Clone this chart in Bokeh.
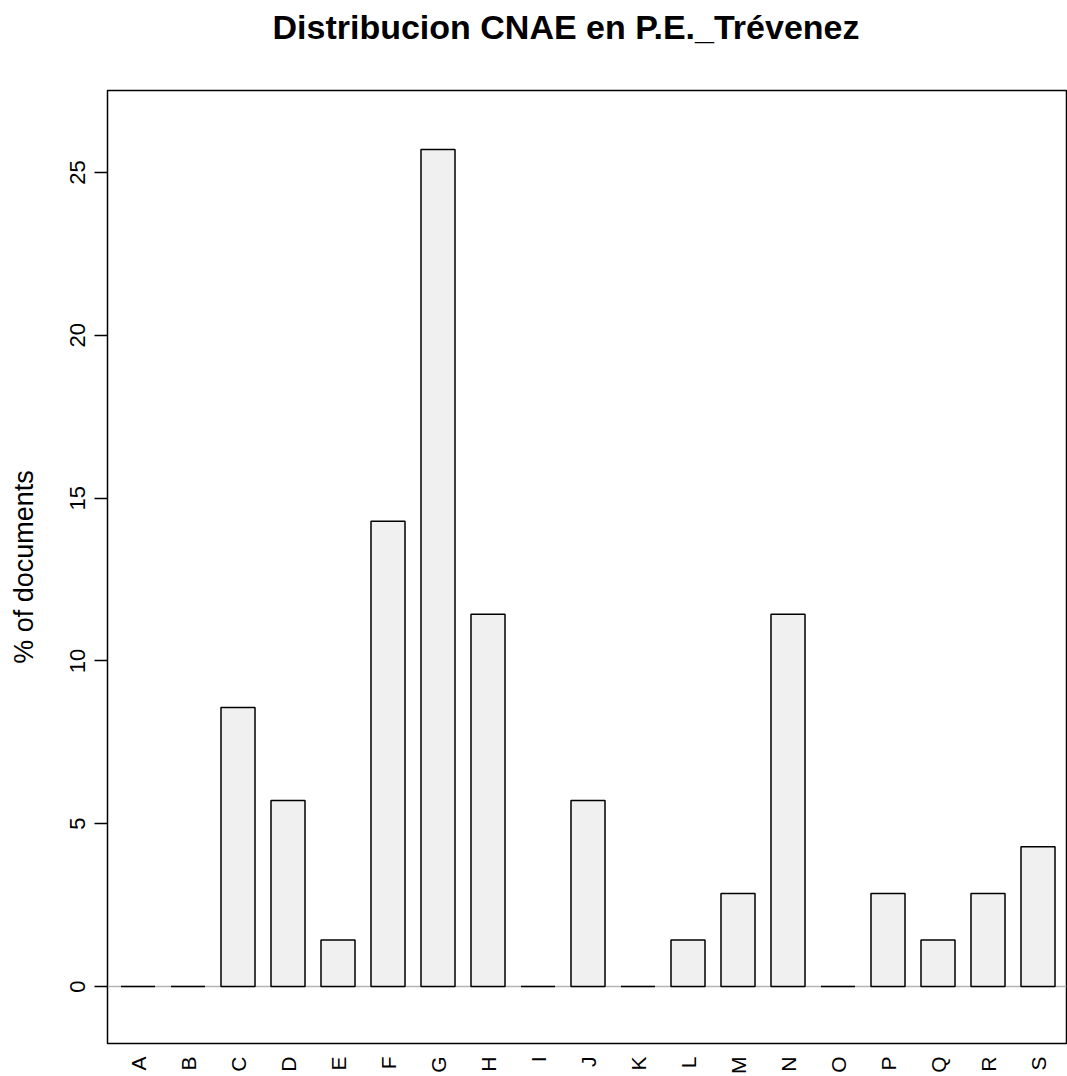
import math
from bokeh.plotting import figure
from bokeh.models import ColumnDataSource, Span, FixedTicker, Range1d, Title
from bokeh.embed import file_html
from bokeh.resources import INLINE

categories = ["A", "B", "C", "D", "E", "F", "G", "H", "I", "J",
              "K", "L", "M", "N", "O", "P", "Q", "R", "S"]
percent_docs = [0.0, 0.0, 8.57, 5.71, 1.43, 14.29, 25.71, 11.43, 0.0, 5.71,
                0.0, 1.43, 2.86, 11.43, 0.0, 2.86, 1.43, 2.86, 4.29]
y_ticks = [0, 5, 10, 15, 20, 25]
title_text = "Distribucion CNAE en P.E._Trévenez"

xs = list(range(len(categories)))
src = ColumnDataSource(dict(x=xs, top=percent_docs, cat=categories))

W, H = 1067, 1076
left, right, top, bottom = 107, 1, 90, 33

p = figure(width=W, height=H, output_backend="svg", toolbar_location=None,
           x_range=Range1d(-0.61, 18.57), y_range=Range1d(-1.75, 27.52),
           min_border_left=left, min_border_right=right,
           min_border_top=top, min_border_bottom=bottom)

# spacer between frame and title, then the title itself
p.add_layout(Title(text=" ", text_font_size="20px", standoff=12), "above")
p.add_layout(Title(text=title_text, align="left", offset=165, vertical_align="top",
                   standoff=14, text_font="Liberation Sans", text_font_size="34px",
                   text_font_style="bold", text_color="black"), "above")

p.background_fill_color = "white"
p.border_fill_color = "white"
p.outline_line_color = "black"
p.outline_line_width = 1.5
p.xgrid.visible = False
p.ygrid.visible = False

p.add_layout(Span(location=0, dimension="width", line_color="#b4b4b4",
                  line_width=1.5, level="underlay"))

p.vbar(x="x", top="top", bottom=0, width=0.68, source=src,
       fill_color="#f0f0f0", line_color="black", line_width=1.5)

# y axis
p.yaxis.ticker = FixedTicker(ticks=y_ticks)
p.yaxis.axis_line_color = None
p.yaxis.major_tick_out = 13
p.yaxis.major_tick_in = 0
p.yaxis.major_tick_line_color = "black"
p.yaxis.major_tick_line_width = 1.5
p.yaxis.minor_tick_line_color = None
p.yaxis.major_label_orientation = "vertical"
p.yaxis.major_label_text_font = "Liberation Sans"
p.yaxis.major_label_text_font_size = "22px"
p.yaxis.major_label_text_color = "black"
p.yaxis.major_label_standoff = 9
p.yaxis.axis_label = "% of documents"
p.yaxis.axis_label_text_font = "Liberation Sans"
p.yaxis.axis_label_text_font_size = "27px"
p.yaxis.axis_label_text_font_style = "normal"
p.yaxis.axis_label_text_color = "black"
p.yaxis.axis_label_standoff = 29

# x axis
p.xaxis.ticker = FixedTicker(ticks=xs)
p.xaxis.major_label_overrides = {i: c for i, c in zip(xs, categories)}
p.xaxis.axis_line_color = None
p.xaxis.major_tick_line_color = None
p.xaxis.minor_tick_line_color = None
p.xaxis.major_label_orientation = math.pi / 2
p.xaxis.major_label_text_font = "Liberation Sans"
p.xaxis.major_label_text_font_size = "21px"
p.xaxis.major_label_text_color = "black"
p.xaxis.major_label_standoff = 7

open("out.html", "w").write(file_html(p, INLINE))
